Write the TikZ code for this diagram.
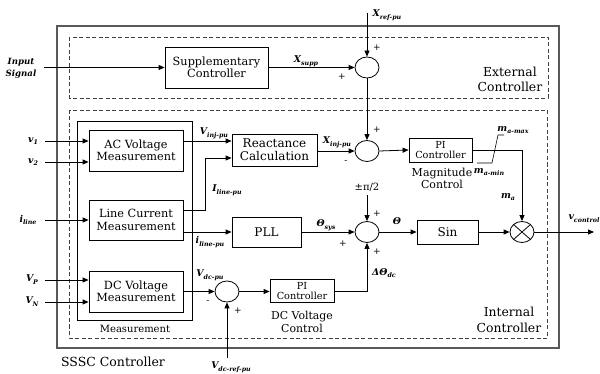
\documentclass[tikz,border=0pt]{standalone}
\usepackage{fontspec}
\setmainfont{DejaVu Serif}
\usetikzlibrary{arrows.meta,shapes.geometric,calc}
\newcommand\lsub[2]{#1\raisebox{-0.3em}{\fontsize{6.3}{6.5}\selectfont #2}}
\begin{document}
\begin{tikzpicture}[x=1pt,y=-1pt,
  blk/.style={draw, line width=0.8pt, inner sep=1pt, align=center, font=\fontsize{11.3}{12.5}\selectfont},
  smallblk/.style={draw, line width=0.8pt, inner sep=0pt, align=center, font=\fontsize{9.7}{10.5}\selectfont},
  sumnode/.style={ellipse, draw, line width=0.8pt, minimum width=24pt, minimum height=21pt, inner sep=0pt},
  arr/.style={-{Triangle[length=6pt,width=5pt]}, line width=0.8pt},
  ln/.style={line width=0.8pt},
  lab/.style={font=\fontsize{9.3}{10}\selectfont\bfseries\itshape, inner sep=0pt},
  sgn/.style={font=\fontsize{9}{9}\selectfont, inner sep=0pt},
  txt/.style={align=center, inner sep=0pt}
]
\useasboundingbox (0,0) rectangle (600,374);

% frames
\draw[line width=1.2pt, black!65] (57,26) rectangle (559,348);
\draw[line width=0.7pt, black!75, dash pattern=on 4pt off 2.5pt] (69,37) rectangle (548,98);
\draw[line width=0.7pt, black!75, dash pattern=on 4pt off 2.5pt] (69,110) rectangle (547,338);
\node[draw, line width=0.8pt, minimum width=115pt, minimum height=199pt, inner sep=0pt] (meas) at (134.5,220.5) {};

\node[txt, font=\fontsize{12.4}{15}\selectfont] (extc) at (510,79.5) {External\\Controller};
\node[txt, font=\fontsize{12.4}{15.5}\selectfont] (intc) at (509,320) {Internal\\Controller};
\node[txt, font=\fontsize{12.5}{13}\selectfont] (sssc) at (113,362) {SSSC Controller};
\node[txt, font=\fontsize{10}{11}\selectfont] (measl) at (135,329) {Measurement};

% blocks
\node[blk, minimum width=103pt, minimum height=41pt] (supp) at (216.5,67.5) {Supplementary\\Controller};
\node[blk, minimum width=94pt, minimum height=41pt] (acv) at (136,150.5) {AC Voltage\\Measurement};
\node[blk, minimum width=94pt, minimum height=40pt] (lcm) at (136,220) {Line Current\\Measurement};
\node[blk, minimum width=94pt, minimum height=41pt] (dcv) at (136,291.5) {DC Voltage\\Measurement};
\node[blk, font=\fontsize{12}{13}\selectfont, minimum width=85pt, minimum height=32pt] (react) at (274.5,150) {Reactance\\Calculation};
\node[blk, font=\fontsize{12}{13}\selectfont, minimum width=69pt, minimum height=30pt] (pll) at (266.5,232) {PLL};
\node[blk, font=\fontsize{12}{13}\selectfont, minimum width=61pt, minimum height=24pt] (sin) at (447.5,232) {Sin};
\node[smallblk, minimum width=63pt, minimum height=24pt] (pim) at (440.5,150) {PI\\Controller};
\node[smallblk, minimum width=64pt, minimum height=23pt] (pidc) at (302,291) {PI\\Controller};

\node[txt, font=\fontsize{11}{11.5}\selectfont] (magc) at (442,178.5) {Magnitude\\Control};
\node[txt, font=\fontsize{10.9}{13}\selectfont] (dcvc) at (302,321.5) {DC Voltage\\Control};

% summing junctions
\node[sumnode] (s1) at (367,67.5) {};
\node[sumnode] (s2) at (367,151) {};
\node[sumnode] (s3) at (367,232) {};
\node[sumnode] (s4) at (227,291.5) {};
\node[sumnode] (mult) at (522,232) {};
\draw[ln] (mult.north east) -- (mult.south west) (mult.north west) -- (mult.south east);

% free ends
\coordinate (inS) at (44,67.5);
\coordinate (xref) at (367,13);
\coordinate (v1in) at (45,141);
\coordinate (v2in) at (45,162);
\coordinate (ilin) at (45,220);
\coordinate (vpin) at (45,280);
\coordinate (vnin) at (45,302);
\coordinate (pm) at (367,195);
\coordinate (vdcref) at (227,358);
\coordinate (vout) at (594,232);
\coordinate (ilbend) at (205,158);
\coordinate (ilstart) at (183,210);
\coordinate (macorner) at (522,150);

% connectors
\draw[arr] (inS) -- (supp.west);
\draw[arr] (supp.east) -- (s1.west);
\draw[arr] (xref) -- (s1.north);
\draw[arr] (s1.south) -- (s2.north);
\draw[arr] (react.east |- s2) -- (s2.west);
\draw[arr] (s2.east) -- (pim.west);
\draw[ln] (pim.east) -- (macorner);
\draw[arr] (macorner) -- (mult.north);
\draw[ln, line width=0.6pt] (477,163) -- (492,163) -- (498,135) -- (504,135);

\draw[arr] (v1in) -- (acv.west |- v1in);
\draw[arr] (v2in) -- (acv.west |- v2in);
\draw[arr] (ilin) -- (lcm.west |- ilin);
\draw[arr] (vpin) -- (dcv.west |- vpin);
\draw[arr] (vnin) -- (dcv.west |- vnin);

\draw[arr] (acv.east |- v1in) -- (react.west |- v1in);
\draw[arr] (lcm.east |- ilstart) -| (ilbend) -- (react.west |- ilbend);
\draw[arr] (lcm.east |- pll) -- (pll.west);
\draw[arr] (pll.east) -- (s3.west);
\draw[arr] (pm) -- (s3.north);
\draw[arr] (s3.east) -- (sin.west);
\draw[arr] (sin.east) -- (mult.west);
\draw[arr] (mult.east) -- (vout);

\draw[arr] (dcv.east |- s4) -- (s4.west);
\draw[arr] (vdcref) -- (s4.south);
\draw[arr] (s4.east) -- (pidc.west |- s4);
\draw[arr] (pidc.east) -| (s3.south);

% labels
\node[lab, align=center, font=\fontsize{8.6}{12.5}\selectfont\bfseries\itshape] (linput) at (21,68.5) {Input\\Signal};
\node[lab] (lxsupp) at (306,61) {\lsub{X}{supp}};
\node[lab] (lxref) at (387,15) {\lsub{X}{ref-pu}};
\node[lab] (lxinj) at (337,142) {\lsub{X}{inj-pu}};
\node[lab] (lv1) at (33,141) {\lsub{v}{1}};
\node[lab] (lv2) at (33,162) {\lsub{v}{2}};
\node[lab] (lil) at (28,220) {\lsub{i}{line}};
\node[lab] (lvp) at (32,280) {\lsub{V}{P}};
\node[lab] (lvn) at (32,302) {\lsub{V}{N}};
\node[lab] (lvinj) at (214,133) {\lsub{V}{inj-pu}};
\node[lab] (lilpu) at (227,190) {\lsub{I}{line-pu}};
\node[lab] (lilpu2) at (210,242) {\lsub{i}{line-pu}};
\node[lab] (lvdc) at (210,275) {\lsub{V}{dc-pu}};
\node[lab] (lvdcref) at (231,367) {\lsub{V}{dc-ref-pu}};
\node[lab] (lthsys) at (326,225) {\lsub{Θ}{sys}};
\node[lab] (lth) at (397,221) {Θ};
\node[lab] (ldth) at (384,273) {\lsub{ΔΘ}{dc}};
\node[lab] (lmamax) at (513,130) {\lsub{m}{a-max}};
\node[lab] (lmamin) at (489,172) {\lsub{m}{a-min}};
\node[lab] (lma) at (508,197) {\lsub{m}{a}};
\node[lab] (lvc) at (584,219) {\lsub{v}{control}};
\node[txt, font=\fontsize{10}{10}\selectfont] (lpm) at (367,187) {±π/2};

% signs
\node[sgn] (p1) at (377,48) {+};
\node[sgn] (p2) at (342,77) {+};
\node[sgn] (p3) at (377,130) {+};
\node[sgn] (m1) at (346,162) {-};
\node[sgn] (p4) at (377,214) {+};
\node[sgn] (p5) at (343,244) {+};
\node[sgn] (p6) at (377,252) {+};
\node[sgn] (m2) at (208,302) {-};
\node[sgn] (p7) at (238,311) {+};
\end{tikzpicture}
\end{document}
